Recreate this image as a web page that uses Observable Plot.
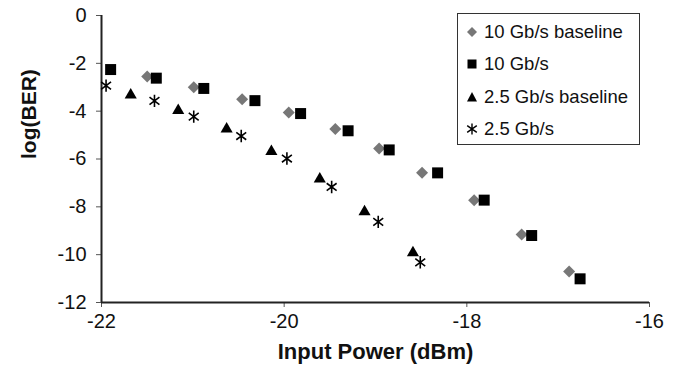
<!DOCTYPE html>
<html>
<head>
<meta charset="utf-8">
<script src="https://cdn.jsdelivr.net/npm/d3@7"></script>
<script src="https://cdn.jsdelivr.net/npm/@observablehq/plot@0.6"></script>
<style>
  html, body { margin: 0; padding: 0; background: #fff; }
  #wrap { position: relative; width: 679px; height: 377px; font-family: "Liberation Sans", Arial, sans-serif; }
  #legend { position: absolute; left: 457px; top: 13px; width: 181px; height: 130px; border: 1.5px solid #333; background: #fff; }
  .item { position: absolute; left: 6px; height: 20px; display: flex; align-items: center; font-size: 18.5px; color: #111; white-space: nowrap; }
  .item svg { width: 16px; height: 16px; margin-right: 4px; }
</style>
</head>
<body>
<div id="wrap"></div>
<script>
// Input power (dBm) and log(BER) for each series
const base10X = [-21.50, -20.99, -20.46, -19.95, -19.44, -18.96, -18.49, -17.92, -17.40, -16.88];
const base10Y = [-2.55, -3.00, -3.50, -4.06, -4.75, -5.56, -6.57, -7.72, -9.16, -10.70];
const g10X = [-21.90, -21.40, -20.88, -20.32, -19.82, -19.30, -18.85, -18.32, -17.81, -17.29, -16.76];
const g10Y = [-2.26, -2.62, -3.05, -3.56, -4.10, -4.82, -5.62, -6.58, -7.72, -9.20, -11.01];
const base25X = [-21.68, -21.16, -20.63, -20.14, -19.61, -19.12, -18.59];
const base25Y = [-3.32, -3.97, -4.75, -5.69, -6.84, -8.21, -9.92];
const g25X = [-21.95, -21.42, -20.99, -20.47, -19.97, -19.48, -18.97, -18.51];
const g25Y = [-2.93, -3.57, -4.23, -5.04, -5.98, -7.17, -8.63, -10.32];
const xTicks = [-22, -20, -18, -16];
const yTicks = [0, -2, -4, -6, -8, -10, -12];
const seriesNames = ["10 Gb/s baseline", "10 Gb/s", "2.5 Gb/s baseline", "2.5 Gb/s"];

const zip = (xs, ys) => xs.map((x, i) => ({x, y: ys[i]}));

// Excel-style star: vertical stroke plus an X
const star = {
  draw(context, size) {
    const r = Math.sqrt(size / Math.PI);
    const s = r * 0.8;
    context.moveTo(0, -r); context.lineTo(0, r);
    context.moveTo(-s, -s * 0.75); context.lineTo(s, s * 0.75);
    context.moveTo(-s, s * 0.75); context.lineTo(s, -s * 0.75);
  }
};

const chart = Plot.plot({
  width: 679,
  height: 377,
  marginLeft: 101,
  marginRight: 30,
  marginTop: 15,
  marginBottom: 75,
  style: {fontFamily: '"Liberation Sans", Arial, sans-serif', color: "#111", background: "#fff"},
  x: {domain: [-22, -16]},
  y: {domain: [-12, 0]},
  marks: [
    Plot.axisX({ticks: xTicks, tickSize: 5, tickPadding: 6, fontSize: 20, tickFormat: d => String(d), label: null, stroke: "#555"}),
    Plot.axisY({ticks: yTicks, tickSize: 5, tickPadding: 10, fontSize: 20, tickFormat: d => String(d), label: null, stroke: "#555"}),
    Plot.ruleY([-12], {stroke: "#222", strokeWidth: 2}),
    Plot.ruleX([-22], {stroke: "#222", strokeWidth: 2}),
    Plot.dot(zip(base10X, base10Y), {x: "x", y: "y", symbol: "diamond2", r: 5.4, fill: "#777"}),
    Plot.dot(zip(g10X, g10Y), {x: "x", y: "y", symbol: "square", r: 6.2, fill: "#000"}),
    Plot.dot(zip(base25X, base25Y), {x: "x", y: "y", symbol: "triangle", r: 4.5, fill: "#000"}),
    Plot.dot(zip(g25X, g25Y), {x: "x", y: "y", symbol: star, r: 6.2, stroke: "#000", strokeWidth: 1.6}),
    Plot.text(["Input Power (dBm)"], {frameAnchor: "bottom", dy: 56, fontSize: 22, fontWeight: "bold", fill: "#111"}),
    Plot.text(["log(BER)"], {frameAnchor: "left", dx: -72, rotate: -90, fontSize: 21, fontWeight: "bold", fill: "#111"})
  ]
});

const wrap = document.getElementById("wrap");
wrap.appendChild(chart);

// Legend
const legend = document.createElement("div");
legend.id = "legend";
const symbols = [
  '<path d="M8 3 L13 8 L8 13 L3 8 Z" fill="#777"/>',
  '<rect x="3.5" y="3.5" width="9" height="9" fill="#000"/>',
  '<path d="M8 3 L13 12.5 L3 12.5 Z" fill="#000"/>',
  '<path d="M8 2.5 V13.5 M3.2 4.6 L12.8 11.4 M3.2 11.4 L12.8 4.6" stroke="#000" stroke-width="1.4" fill="none"/>'
];
const tops = [8, 40, 73, 105];
seriesNames.forEach((name, i) => {
  const item = document.createElement("div");
  item.className = "item";
  item.style.top = tops[i] + "px";
  item.innerHTML = `<svg viewBox="0 0 16 16">${symbols[i]}</svg><span>${name}</span>`;
  legend.appendChild(item);
});
wrap.appendChild(legend);
</script>
</body>
</html>
